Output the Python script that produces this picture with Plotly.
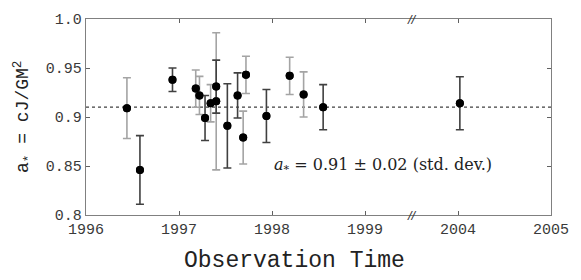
import plotly.graph_objects as go

# ---- data ----
obs_years = [1996.44, 1996.58, 1996.93, 1997.18, 1997.22, 1997.28, 1997.34, 1997.40, 1997.40,
             1997.52, 1997.63, 1997.69, 1997.72, 1997.94, 1998.19, 1998.34, 1998.55, 2004.02]
spin_values = [0.909, 0.846, 0.938, 0.929, 0.922, 0.899, 0.914, 0.931, 0.916,
               0.891, 0.922, 0.879, 0.943, 0.901, 0.942, 0.923, 0.910, 0.914]
spin_errors = [0.031, 0.035, 0.012, 0.019, 0.0195, 0.023, 0.019, 0.027, 0.070,
               0.043, 0.023, 0.027, 0.019, 0.027, 0.019, 0.023, 0.023, 0.027]
bar_group = ["gray", "dark", "dark", "gray", "gray", "dark", "gray", "dark", "gray",
             "dark", "dark", "gray", "gray", "dark", "gray", "gray", "dark", "dark"]
mean_value = 0.91
tick_years = [1996, 1997, 1998, 1999, 2004, 2005]
y_ticks = [0.8, 0.85, 0.9, 0.95, 1.0]
y_tick_labels = ["0.8", "0.85", "0.9", "0.95", "1.0"]

BREAK_LO, BREAK_HI = 1999.5, 2003.5


def to_axis(year):
    """Broken time axis: 1996-1999.5 then 2003.5-2005 glued together."""
    return year - 1996 if year <= BREAK_LO else year - 1996 - (BREAK_HI - BREAK_LO)


group_colors = {"gray": "#a4a4a4", "dark": "#404040"}
MONO = "Liberation Mono, Courier New, monospace"

L, R, T, B = 86, 23, 14, 65
W, H = 581, 280
PW, PH = W - L - R, H - T - B

fig = go.Figure()
for grp in ["gray", "dark"]:
    idx = [i for i, g in enumerate(bar_group) if g == grp]
    fig.add_trace(go.Scatter(
        x=[to_axis(obs_years[i]) for i in idx],
        y=[spin_values[i] for i in idx],
        mode="markers",
        marker=dict(color="black", size=8),
        error_y=dict(type="data", array=[spin_errors[i] for i in idx], visible=True,
                     color=group_colors[grp], thickness=1.6, width=4),
        showlegend=False,
    ))
# markers on top
fig.add_trace(go.Scatter(
    x=[to_axis(y) for y in obs_years], y=spin_values, mode="markers",
    marker=dict(color="black", size=8), showlegend=False))

x_max = to_axis(2005)
fig.add_shape(type="line", x0=0, x1=x_max, y0=mean_value, y1=mean_value,
              line=dict(color="#404040", width=1.2, dash="dot"), layer="below")

axis_common = dict(showline=True, linecolor="#808080", linewidth=1.3, mirror="ticks",
                   ticks="inside", ticklen=4, tickcolor="#606060", showgrid=False,
                   zeroline=False, tickfont=dict(family=MONO, size=15, color="#3a3a3a"))

fig.update_layout(
    width=W, height=H,
    margin=dict(l=L, r=R, t=T, b=B),
    paper_bgcolor="white", plot_bgcolor="white",
    xaxis=dict(range=[0, x_max], tickvals=[to_axis(y) for y in tick_years],
               ticktext=[str(y) for y in tick_years], **axis_common),
    yaxis=dict(range=[0.8, 1.0], tickvals=y_ticks, ticktext=y_tick_labels, **axis_common),
)

# break marks
brk = to_axis(BREAK_LO)
for yp in [1.0, 0.0]:
    fig.add_annotation(x=brk, y=yp, xref="x", yref="paper", text="<i>//</i>", showarrow=False,
                       font=dict(family="Liberation Sans", size=13, color="#333333"),
                       yanchor="middle", xanchor="center")

fig.add_annotation(x=(275 - L) / PW, y=1 - (164 - T) / PH, xref="paper", yref="paper",
                   text="<i>a</i><sub>*</sub> = 0.91 ± 0.02 (std. dev.)", showarrow=False,
                   xanchor="left", yanchor="middle",
                   font=dict(family="DejaVu Serif", size=16, color="#222222"))

fig.add_annotation(x=(298 - L) / PW, y=-(262 - (H - B)) / PH, xref="paper", yref="paper",
                   text="Observation Time", showarrow=False, xanchor="center", yanchor="middle",
                   font=dict(family=MONO, size=23, color="#222222"))

fig.add_annotation(x=-(L - 22) / PW, y=0.5, xref="paper", yref="paper",
                   text="a<sub>*</sub> = cJ/GM<sup>2</sup>", showarrow=False, textangle=-90,
                   xanchor="center", yanchor="middle",
                   font=dict(family=MONO, size=18, color="#222222"))

fig.write_html("out.html", config={"displayModeBar": False},
               post_script="document.body.style.margin='0';")
